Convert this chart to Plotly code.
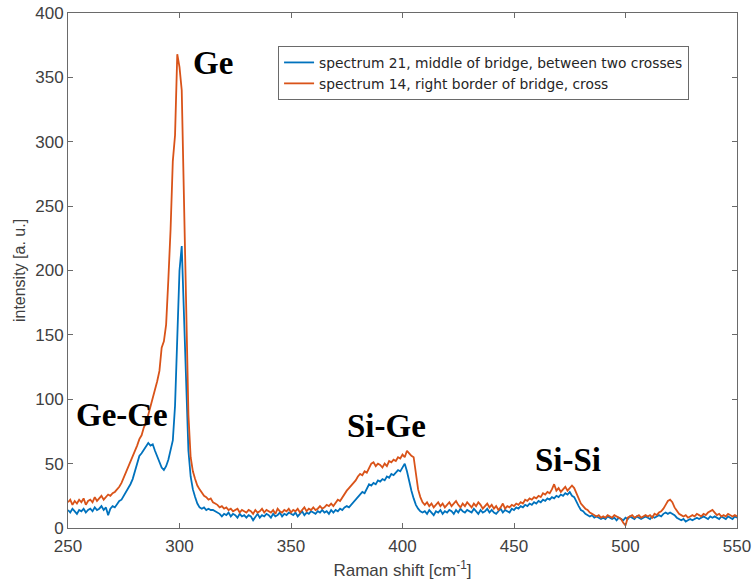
import plotly.graph_objects as go

# Raman shift axis, 1 cm^-1 steps
shift_start = 250
shift_end = 550

# spectrum 21 - middle of bridge, between two crosses
spec21 = [
    14, 12, 15, 13, 11, 14, 13, 15, 12, 14,
    15, 13, 16, 14, 15, 17, 14, 16, 10, 15,
    17, 16, 19, 21, 22, 25, 27, 30, 34, 38,
    44, 50, 56, 58, 61, 63, 66, 64, 65, 60,
    56, 51, 47, 45, 48, 53, 60, 68, 95, 150,
    200, 219, 168, 108, 60, 40, 30, 24, 19, 16,
    15, 16, 14, 15, 14, 14, 13, 12, 11, 9,
    11, 10, 12, 9, 11, 10, 8, 11, 9, 10,
    8, 10, 9, 6, 9, 11, 8, 10, 9, 11,
    10, 8, 11, 9, 10, 12, 9, 11, 10, 12,
    11, 10, 12, 9, 11, 13, 10, 12, 11, 13,
    12, 11, 13, 12, 14, 12, 13, 11, 14, 12,
    14, 13, 15, 14, 16, 17, 16, 18, 20, 22,
    24, 26, 28, 27, 30, 34, 33, 35, 34, 37,
    36, 38, 37, 40, 39, 42, 41, 43, 45, 44,
    47, 50, 44, 36, 29, 23, 18, 15, 13, 12,
    13, 11, 14, 12, 10, 13, 12, 14, 11, 13,
    12, 14, 13, 11, 14, 12, 15, 13, 12, 14,
    13, 12, 15, 13, 11, 14, 12, 13, 15, 12,
    14, 12, 11, 13, 15, 12, 14, 13, 12, 15,
    14, 16, 15, 17, 16, 18, 17, 19, 18, 20,
    19, 21, 20, 22, 21, 23, 22, 24, 23, 25,
    24, 26, 25, 27, 26, 28, 25, 24, 20, 17,
    14, 13, 11, 10, 9, 10, 8, 9, 8, 7,
    8, 7, 9, 8, 7, 8, 6, 8, 7, 6,
    8, 7, 9, 8, 7, 9, 8, 7, 8, 9,
    8, 7, 9, 8, 9, 10, 9, 11, 12, 11,
    12, 11, 10, 8, 7, 6, 7, 5, 6, 7,
    6, 7, 8, 7, 8, 9, 8, 7, 9, 8,
    9, 8, 7, 9, 8, 7, 9, 8, 7, 9,
    8,
]

# spectrum 14 - right border of bridge, cross
spec14 = [
    20, 22, 18, 21, 19, 22, 20, 23, 18, 21,
    22, 20, 24, 21, 23, 25, 22, 24, 26, 25,
    27, 28, 30, 32, 35, 39, 43, 47, 52, 56,
    60, 64, 69, 72, 78, 82, 88, 94, 100, 106,
    114, 122, 140, 145, 158, 193, 232, 285, 305, 368,
    358, 340, 250, 154, 88, 55, 44, 38, 33, 30,
    27, 25, 24, 22, 23, 20, 19, 18, 16, 17,
    15, 16, 14, 15, 13, 14, 15, 12, 14, 13,
    12, 14, 13, 11, 14, 12, 13, 15, 12, 14,
    13, 12, 14, 11, 15, 13, 12, 14, 13, 15,
    12, 14, 13, 15, 12, 14, 16, 13, 15, 14,
    16, 14, 15, 17, 15, 16, 18, 17, 19, 17,
    20, 22, 21, 24, 26, 29, 31, 33, 35, 37,
    40, 42, 41, 44, 43, 47, 50, 51, 48, 50,
    49, 47, 50, 48, 52, 51, 53, 52, 55, 54,
    57, 55, 60, 58, 56, 55, 42, 30, 24, 20,
    18, 20, 17, 19, 16, 18, 20, 17, 19, 16,
    18, 20, 17, 19, 21, 18, 16, 19, 17, 20,
    18, 16, 19, 17, 20, 18, 15, 17, 19, 16,
    18, 15, 17, 14, 16, 19, 15, 17, 16, 18,
    17, 19, 18, 20, 19, 22, 21, 23, 22, 24,
    23, 25, 24, 27, 26, 28, 27, 30, 34, 29,
    31, 28, 30, 32, 29, 31, 33, 31, 27, 22,
    19, 17, 15, 14, 12, 11, 10, 9, 10, 8,
    9, 8, 10, 9, 8, 10, 9, 8, 7, 4,
    2, 8, 9, 10, 8, 9, 10, 8, 9, 10,
    9, 10, 8, 11, 10, 12, 13, 15, 18, 21,
    22, 20, 16, 13, 11, 10, 9, 10, 8, 9,
    10, 9, 11, 10, 9, 11, 10, 12, 13, 14,
    12, 10, 11, 9, 10, 9, 11, 10, 9, 10,
    9,
]

shift = list(range(shift_start, shift_end + 1))

series_names = [
    "spectrum 21, middle of bridge, between two crosses",
    "spectrum 14, right border of bridge, cross",
]
series_colors = ["#0072BD", "#D95319"]

# peak labels: text, Raman shift, intensity
peak_labels = ["Ge", "Ge-Ge", "Si-Ge", "Si-Si"]
peak_x = [315.0, 274.0, 393.0, 474.0]
peak_y = [361, 87.5, 79.0, 53.0]

x_ticks = [250, 300, 350, 400, 450, 500, 550]
y_ticks = [0, 50, 100, 150, 200, 250, 300, 350, 400]

fig = go.Figure()
for name, ys, col in zip(series_names, [spec21, spec14], series_colors):
    fig.add_trace(go.Scatter(
        x=shift, y=ys, mode="lines", name=name,
        line=dict(color=col, width=1.8),
    ))

for txt, px, py in zip(peak_labels, peak_x, peak_y):
    fig.add_annotation(
        x=px, y=py, xref="x", yref="y", text=txt, showarrow=False,
        xanchor="center", yanchor="middle",
        font=dict(family="Liberation Serif", size=33, color="#000000", weight="bold"),
    )

axis_common = dict(
    showline=True, linecolor="#6a6a6a", linewidth=1, mirror="ticks",
    ticks="inside", ticklen=5, tickcolor="#6a6a6a", tickwidth=1,
    showgrid=False, zeroline=False, automargin=False,
    tickfont=dict(family="Liberation Sans", size=17, color="#404040"),
)

fig.update_layout(
    width=754, height=585,
    margin=dict(l=68, r=17, t=13, b=57),
    plot_bgcolor="white", paper_bgcolor="white",
    font=dict(family="Liberation Sans", color="#404040"),
    xaxis=dict(
        range=[250, 550], tickvals=x_ticks, ticklabelstandoff=3,
        title=dict(text="Raman shift [cm<sup>-1</sup>]", font=dict(size=17, color="#404040"), standoff=8),
        **axis_common,
    ),
    yaxis=dict(
        range=[0, 400], tickvals=y_ticks,
        title=dict(text="intensity [a. u.]", font=dict(size=16, color="#404040"), standoff=5),
        **axis_common,
    ),
    legend=dict(
        x=0.314, y=0.936, xanchor="left", yanchor="top",
        bgcolor="white", bordercolor="#6a6a6a", borderwidth=1,
        font=dict(family="DejaVu Sans", size=13.8, color="#262626"),
        tracegroupgap=0, itemwidth=30,
    ),
    showlegend=True,
)

fig.write_html("out.html")
